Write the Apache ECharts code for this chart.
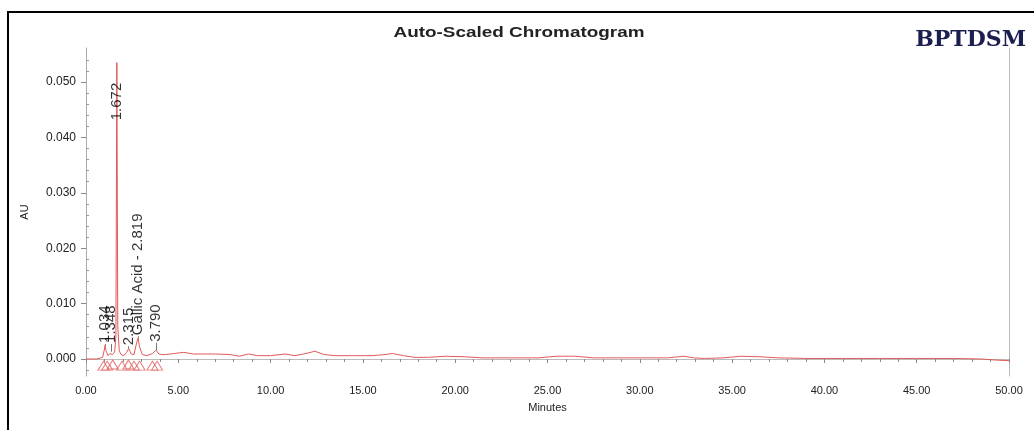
<!DOCTYPE html>
<html><head><meta charset="utf-8">
<script src="https://cdn.jsdelivr.net/npm/echarts@6/dist/echarts.min.js"></script>
<style>html,body{margin:0;padding:0;background:#fff}#c{width:1034px;height:430px}</style>
</head><body><div id="c"></div>
<script>
// Chromatogram trace (minutes, AU)
const times = [0, 0.6, 0.9, 1.0, 1.034, 1.08, 1.2, 1.3, 1.348, 1.42, 1.55, 1.62, 1.672, 1.72, 1.8, 1.9, 2.05, 2.2, 2.315, 2.45, 2.6, 2.75, 2.819, 2.9, 3.05, 3.3, 3.6, 3.79, 3.95, 4.1,
  4.3, 4.8, 5.3, 5.8, 6.3, 7.0, 7.8, 8.3, 8.8, 9.3, 10.0, 10.8, 11.3, 11.8, 12.4, 12.9, 13.5, 14.5, 15.5, 16.2, 16.6, 17.2, 17.8, 18.5, 19.5, 20.5, 21.5, 23, 24.5, 25.5, 26.5, 27.5, 29, 30.5, 31.5, 32.4, 32.9, 33.5, 34.5, 35.5, 36.5, 37.5, 39, 41, 43, 45, 47, 48.5, 49.3, 50];
const absorbance = [0, 0, 0.0003, 0.0018, 0.0025, 0.0015, 0.0006, 0.0010, 0.0013, 0.0008, 0.0012, 0.0040, 0.0535, 0.0060, 0.0015, 0.0008, 0.0006, 0.0012, 0.0019, 0.0009, 0.0008, 0.0030, 0.0038, 0.0022, 0.0008, 0.0006, 0.0010, 0.0016, 0.0009, 0.0008,
  0.0008, 0.0010, 0.0012, 0.0009, 0.0009, 0.0009, 0.0008, 0.0005, 0.0009, 0.0006, 0.0006, 0.0009, 0.0006, 0.0009, 0.0014, 0.0008, 0.0006, 0.0006, 0.0006, 0.0008, 0.0010, 0.0006, 0.0003, 0.0003, 0.0005, 0.0004, 0.0002, 0.0002, 0.0002, 0.0005, 0.0005, 0.0002, 0.0002, 0.0002, 0.0002, 0.0005, 0.0002, 0.0001, 0.0002, 0.0005, 0.0004, 0.0002, 0.0001, 0.0001, 0.0001, 0.0001, 0.0001, 0.0000, -0.0002, -0.0003];

// Peak labels
const peakNames = ['1.034', '1.348', '1.672', '2.315', 'Gallic Acid - 2.819', '3.790'];
const peakTimes = [1.034, 1.348, 1.672, 2.315, 2.819, 3.790];
const peakApex = [0.0025, 0.0013, 0.0535, 0.0019, 0.0038, 0.0016];
const labelBase = [0.0029, 0.0029, 0.0431, 0.0025, 0.0043, 0.0031];

// Integration markers (peak start/end)
const markTimes = [0.95, 1.15, 1.45, 1.95, 2.3, 2.6, 2.9, 3.6, 3.85];
const markValues = [-0.0012, -0.0012, -0.0010, -0.0012, -0.0010, -0.0012, -0.0012, -0.0012, -0.0012];

// Axis ticks
const yMajor = [0, 0.01, 0.02, 0.03, 0.04, 0.05];
const yMinor = [-0.002, 0.002, 0.004, 0.006, 0.008, 0.012, 0.014, 0.016, 0.018, 0.022, 0.024, 0.026, 0.028, 0.032, 0.034, 0.036, 0.038, 0.042, 0.044, 0.046, 0.048, 0.052, 0.054];

const Y_MIN = -0.00307, Y_MAX = 0.05614;
const FONT = 'Liberation Sans, Arial, sans-serif';

const chart = echarts.init(document.getElementById('c'), null, {renderer: 'canvas'});
const trace = times.map((t, i) => [t, absorbance[i]]);
const labels = peakTimes.map((t, i) => ({value: [t, labelBase[i]], name: peakNames[i]}));
const leaders = peakTimes.map((t, i) => i === 2 ? null : [{coord: [t, peakApex[i]]}, {coord: [t, labelBase[i] - 0.0002]}]).filter(Boolean);

chart.setOption({
  animation: false,
  backgroundColor: '#fff',
  title: [
    {text: 'BPTDSM', right: 3, top: 24,
     textStyle: {fontFamily: 'DejaVu Serif, serif', fontSize: 22, fontWeight: 'bold', color: '#1b1f4f'}}
  ],
  graphic: [
    {type: 'rect', shape: {x: 8, y: 12, width: 1100, height: 500}, style: {fill: 'none', stroke: '#000', lineWidth: 2}, silent: true},
    {type: 'text', x: 519, y: 33, scaleX: 1.35, silent: true,
     style: {text: 'Auto-Scaled Chromatogram', fontFamily: FONT, fontSize: 14, fontWeight: 'bold', fill: '#222', align: 'center', verticalAlign: 'middle'}}
  ],
  grid: {left: 86, top: 48, width: 923, height: 328},
  xAxis: [
    {type: 'value', min: 0, max: 50, interval: 5,
     axisLine: {lineStyle: {color: '#999'}},
     axisTick: {length: 4, lineStyle: {color: '#888'}},
     minorTick: {show: true, splitNumber: 5, length: 3, lineStyle: {color: '#888'}},
     splitLine: {show: false},
     axisLabel: {formatter: v => v.toFixed(2), fontFamily: FONT, fontSize: 11, color: '#222', margin: 9},
     name: 'Minutes', nameLocation: 'middle', nameGap: 26,
     nameTextStyle: {fontFamily: FONT, fontSize: 11, color: '#222'}},
    {type: 'value', position: 'top', min: 0, max: 50,
     axisLine: {show: true, lineStyle: {color: '#bbb'}}, axisTick: {show: false}, axisLabel: {show: false}, splitLine: {show: false}}
  ],
  yAxis: [
    {type: 'value', min: Y_MIN, max: Y_MAX,
     axisLine: {show: true, lineStyle: {color: '#aaa'}},
     axisTick: {show: true, length: 5, customValues: yMajor, lineStyle: {color: '#888'}},
     axisLabel: {customValues: yMajor, formatter: v => v.toFixed(3), fontFamily: FONT, fontSize: 12, color: '#222', margin: 10},
     splitLine: {show: false},
     name: 'AU', nameLocation: 'middle', nameGap: 56, nameRotate: 90,
     nameTextStyle: {fontFamily: FONT, fontSize: 11, color: '#222'}},
    {type: 'value', min: Y_MIN, max: Y_MAX,
     axisLine: {show: false},
     axisTick: {show: true, length: 3, customValues: yMinor, lineStyle: {color: '#999'}},
     axisLabel: {show: false}, splitLine: {show: false}},
    {type: 'value', position: 'right', min: Y_MIN, max: Y_MAX,
     axisLine: {show: true, lineStyle: {color: '#bbb'}}, axisTick: {show: false}, axisLabel: {show: false}, splitLine: {show: false}}
  ],
  series: [
    {type: 'line', data: trace, showSymbol: false, lineStyle: {color: '#e05a5a', width: 1}, z: 3},
    {type: 'scatter', data: markTimes.map((t, i) => [t, markValues[i]]), symbol: 'triangle', symbolSize: [11, 9],
     itemStyle: {color: 'rgba(0,0,0,0)', borderColor: '#e05a5a', borderWidth: 1}, z: 2},
    {type: 'scatter', data: labels, symbolSize: 0,
     label: {show: true, position: 'inside', rotate: 90, align: 'left', verticalAlign: 'middle',
             formatter: p => p.name, fontFamily: FONT, fontSize: 15, color: '#000'},
     markLine: {silent: true, symbol: 'none', label: {show: false}, lineStyle: {color: '#777', width: 1, type: 'solid'}, data: leaders},
     z: 4}
  ]
});
</script></body></html>
